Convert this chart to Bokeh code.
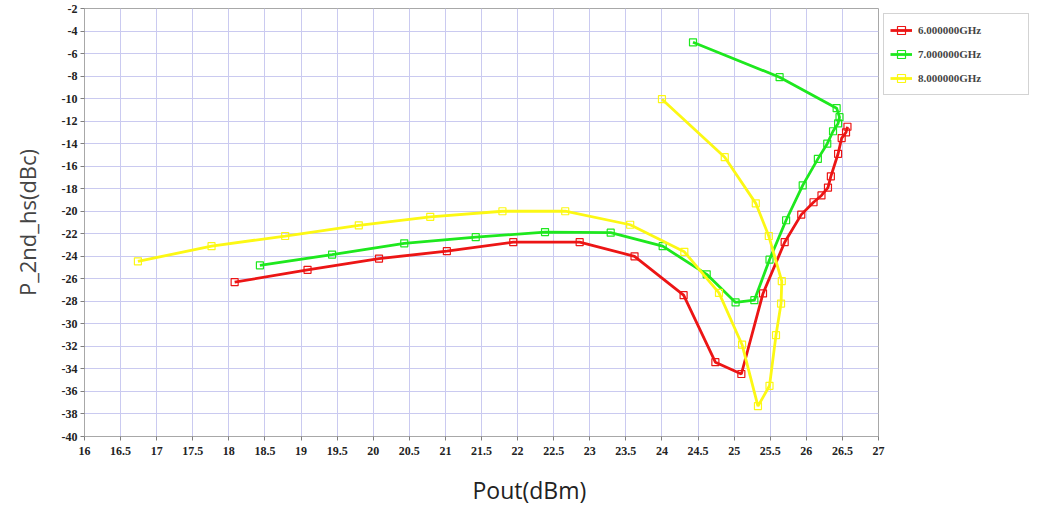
from bokeh.plotting import figure
from bokeh.models import FixedTicker, Legend, LegendItem, Title, Range1d
from bokeh.embed import file_html
from bokeh.resources import INLINE

# ---- data ----
series_names = ["6.000000GHz", "7.000000GHz", "8.000000GHz"]

red_x = [18.08, 19.09, 20.08, 21.02, 21.94, 22.86, 23.62, 24.30, 24.74, 25.10,
         25.40, 25.70, 25.93, 26.10, 26.21, 26.30, 26.34, 26.44, 26.49, 26.55, 26.57]
red_y = [-26.3, -25.2, -24.2, -23.55, -22.75, -22.75, -24.0, -27.45, -33.4, -34.45,
         -27.3, -22.75, -20.3, -19.2, -18.6, -17.9, -16.9, -14.9, -13.5, -13.0, -12.5]

green_x = [18.43, 19.43, 20.43, 21.42, 22.38, 23.29, 24.01, 24.62, 25.02, 25.28,
           25.49, 25.72, 25.95, 26.16, 26.29, 26.37, 26.44, 26.46, 26.42, 25.63, 24.43]
green_y = [-24.8, -23.85, -22.85, -22.3, -21.85, -21.9, -23.1, -25.6, -28.1, -27.9,
           -24.3, -20.8, -17.7, -15.35, -14.0, -12.9, -12.2, -11.65, -10.85, -8.1, -5.0]

yellow_x = [16.74, 17.76, 18.78, 19.80, 20.79, 21.79, 22.66, 23.56, 24.31, 24.79,
            25.11, 25.33, 25.49, 25.58, 25.65, 25.66, 25.48, 25.30, 24.87, 24.00]
yellow_y = [-24.45, -23.1, -22.2, -21.25, -20.5, -20.0, -20.0, -21.2, -23.6, -27.25,
            -31.85, -37.3, -35.5, -31.0, -28.2, -26.2, -22.2, -19.3, -15.2, -10.05]

x_ticks = [16, 16.5, 17, 17.5, 18, 18.5, 19, 19.5, 20, 20.5, 21, 21.5,
           22, 22.5, 23, 23.5, 24, 24.5, 25, 25.5, 26, 26.5, 27]
x_tick_labels = ["16", "16.5", "17", "17.5", "18", "18.5", "19", "19.5", "20", "20.5",
                 "21", "21.5", "22", "22.5", "23", "23.5", "24", "24.5", "25", "25.5",
                 "26", "26.5", "27"]
y_ticks = [-40, -38, -36, -34, -32, -30, -28, -26, -24, -22, -20, -18, -16,
           -14, -12, -10, -8, -6, -4, -2]

colors = ["#ec1515", "#1ee81e", "#fcf814"]

# ---- figure ----
p = figure(frame_width=794, frame_height=428, output_backend="svg",
           toolbar_location=None,
           x_range=Range1d(16, 27), y_range=Range1d(-40, -2),
           min_border_left=84, min_border_right=151, min_border_top=8,
           min_border_bottom=76)
p.background_fill_color = "white"
p.border_fill_color = "white"
p.outline_line_color = "#a8a8a8"

tick_font = "Liberation Serif"
p.xaxis.ticker = FixedTicker(ticks=x_ticks)
p.xaxis.major_label_overrides = {t: l for t, l in zip(x_ticks, x_tick_labels)}
p.yaxis.ticker = FixedTicker(ticks=y_ticks)
p.yaxis.major_label_overrides = {t: str(t) for t in y_ticks}
for ax in (p.xaxis[0], p.yaxis[0]):
    ax.axis_line_color = "#a8a8a8"
    ax.major_tick_line_color = "#808080"
    ax.major_tick_in = 0
    ax.major_tick_out = 4
    ax.minor_tick_line_color = None
    ax.major_label_text_font = tick_font
    ax.major_label_text_font_style = "bold"
    ax.major_label_text_font_size = "12px"
    ax.major_label_text_color = "#222222"
    ax.major_label_standoff = 3
p.xaxis.major_label_standoff = 6

p.yaxis.axis_label = "P_2nd_hs(dBc)"
p.yaxis.axis_label_text_font = "Open Sans"
p.yaxis.axis_label_text_font_style = "normal"
p.yaxis.axis_label_text_font_size = "22px"
p.yaxis.axis_label_standoff = 17

p.xgrid.ticker = FixedTicker(ticks=x_ticks)
p.ygrid.ticker = FixedTicker(ticks=y_ticks)
p.xgrid.grid_line_color = "#cacaf0"
p.ygrid.grid_line_color = "#cacaf0"
p.xgrid.grid_line_width = 1
p.ygrid.grid_line_width = 1

xs = [red_x, green_x, yellow_x]
ys = [red_y, green_y, yellow_y]
items = []
for name, x, y, c in zip(series_names, xs, ys, colors):
    l = p.line(x, y, line_color=c, line_width=2.8)
    s = p.scatter(x, y, marker="square", size=7, fill_color=None, line_color=c,
                  line_width=1.2)
    items.append(LegendItem(label=name, renderers=[l, s]))

legend = Legend(items=items, location="top_left", margin=5, padding=6,
                spacing=4, label_height=20, glyph_height=20, glyph_width=22,
                label_standoff=6, label_width=104,
                label_text_font=tick_font, label_text_font_style="bold",
                label_text_font_size="11px", border_line_color="#a8a8a8",
                background_fill_color="white", background_fill_alpha=1.0)
p.add_layout(legend, "right")

xtitle = Title(text="Pout(dBm)", align="left", offset=388, standoff=28,
               text_font="Open Sans", text_font_style="normal",
               text_font_size="23px", text_color="#222222")
p.add_layout(xtitle, "below")

open("out.html", "w").write(file_html(p, INLINE))
